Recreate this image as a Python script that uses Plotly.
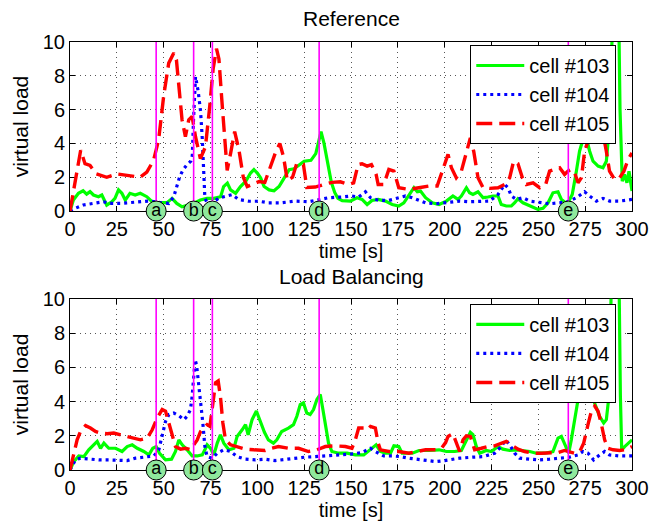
import plotly.graph_objects as go

# ---------------- data (time [s], virtual load) ----------------
REF_103 = [(0,0),(1.8,0.65),(4.5,1.05),(7,1.2),(8.9,1.0),(10.7,1.15),(12.5,0.95),(15.2,0.85),(17,0.95),(19.6,0.35),
           (22.3,0.55),(24,0.75),(25.9,1.25),(27.7,1.05),(29.5,0.65),(32,1.05),(34.8,0.95),(37.5,1.05),(41,0.85),(43.8,0.55),
           (46.4,0.5),(49,0.5),(51.8,0.5),(54.5,0.75),(57,0.45),(59.8,0.25),(62.5,0.35),(66,0.45),(69.6,0.65),(73.2,0.75),
           (76.8,0.75),(80.4,0.85),(82,1.45),(84,1.65),(85.7,1.25),(88.4,1.05),(91,1.45),(93.75,1.75),(96.4,2.25),(98.2,2.45),
           (100,2.25),(101.8,1.95),(103.6,1.45),(106.3,1.25),(108.9,1.2),(111.6,1.45),(114.3,1.95),(117,2.45),(119.6,2.5),
           (122.3,2.7),(125,2.95),(128.6,3.0),(131.2,3.4),(132.5,4.0),(134,4.7),(135.6,4.0),(137.3,2.9),(139.5,1.7),(141.3,1.1),
           (143,0.75),(145.3,0.62),(149.6,0.59),(153.2,0.79),(155.9,0.69),(158.6,0.39),(161.2,0.63),(164.5,0.69),(168.4,0.59),
           (172,0.39),(175.5,0.3),(178.2,0.49),(180.9,0.98),(183.6,1.38),(185.4,1.14),(187.1,1.18),(189.8,0.79),(193.4,0.49),
           (197,0.39),(200.9,0.59),(204.4,0.89),(207.1,0.69),(208.9,0.89),(211.6,1.38),(213.3,1.08),(215.1,0.98),(217.8,1.14),
           (220.5,0.79),(223.1,0.83),(225.8,0.89),(228.5,0.89),(230.2,0.39),(232.9,0.3),(235.6,0.3),(237.4,0.49),(239.1,0.73),
           (241.8,0.49),(245.4,0.3),(249.8,0.1),(252.5,0.16),(255.2,0.49),(257.8,1.08),(260.5,1.14),(262.3,0.69),(264.6,0.49),
           (265.8,0.49),(268.1,0.98),(270.3,2.36),(272,3.54),(273.8,4.23),(275.6,4.33),(277.4,3.54),(279.2,2.95),(281.9,2.66),
           (284.5,2.56),(286.3,2.95),(287.7,4.72),(288.6,8.3),(289.3,11),(291,14),(293,11),(293.6,6),(294.8,1.77),(296,2.17),
           (297.3,1.67),(298.4,2.36),(300,1.18)]

REF_104 = [(0,0),(2.7,0.16),(7.1,0.36),(12.5,0.45),(17.9,0.55),(21.4,0.45),(26.8,0.45),(32,0.5),(37.5,0.55),(42.9,0.6),
           (48.2,0.5),(52.7,0.45),(55.4,0.85),(57.1,1.45),(58.6,2.05),(60.4,2.45),(62.5,2.75),(64.5,2.95),(65.3,3.3),(65.9,5.3),
           (67,7.95),(68.4,7.1),(69.7,5.9),(70.6,4.3),(71.5,2.35),(72,0.77),(73.2,0.48),(75.9,0.48),(79.5,0.77),(83,0.87),
           (86.6,0.97),(90.1,0.68),(95.5,0.58),(100.8,0.58),(105.9,0.49),(113,0.49),(120.2,0.59),(127.3,0.55),(132.7,0.65),
           (138,0.79),(145.2,0.83),(150.5,0.89),(154.1,0.83),(157.7,1.14),(160.4,0.79),(164.8,0.63),(170.2,0.63),(175.5,0.79),
           (179.1,0.89),(182.7,0.79),(186.1,0.63),(189.8,0.49),(195.2,0.43),(200.4,0.49),(202.7,0.49),(208,0.59),(213.3,0.55),
           (218.7,0.59),(224,0.59),(228.5,0.98),(232,1.57),(233.8,1.38),(235.6,0.89),(238.3,0.69),(241.8,0.79),(245.4,0.59),
           (250.7,0.49),(256,0.43),(261.4,0.49),(265.8,0.55),(270.3,0.79),(273,0.98),(274.7,1.14),(277.4,0.89),(281,0.59),
           (284.5,0.75),(288,0.59),(293.4,0.59),(300,0.69)]

REF_105 = [(0,0),(3.6,2.4),(5.7,3.6),(8,2.8),(10.7,2.7),(14,2.2),(19.6,2.0),(25,2.2),(30,2.1),(37.5,2.0),(41,2.3),
           (44.6,3.0),(47.3,4.2),(50,6.8),(52.7,8.75),(55.4,9.35),(56.8,8.95),(58.4,6.8),(59.8,5.4),(61.6,4.4),(63.4,5.4),
           (65.2,5.6),(67,4.4),(69.6,3.1),(72.3,3.8),(74.6,6.2),(76.4,8.4),(78.2,9.6),(79.5,9.0),(80.9,6.8),(82.5,4.4),
           (83.9,2.4),(85.7,3.4),(87.9,4.7),(90.2,3.6),(92.5,2.0),(94.6,1.45),(98.2,1.6),(101,1.75),(104,1.7),(106.8,2.56),
           (109.5,3.4),(112,4.0),(114,3.2),(116,1.8),(118.8,2.0),(121,2.8),(124.6,2.75),(126.4,1.4),(130.9,1.42),(135.4,1.57),
           (140,1.7),(144.3,1.73),(148.8,1.57),(151.4,1.67),(153.8,2.75),(155.9,2.8),(158.6,2.66),(160.9,2.75),(163.4,2.17),
           (164.5,1.57),(167.5,1.57),(170.2,2.46),(172.9,2.36),(175.5,1.38),(180.9,1.28),(186.2,1.38),(191.6,1.48),(196,1.48),
           (199.6,2.56),(201.8,3.35),(203.6,2.56),(206.2,1.97),(208.9,2.36),(211.6,3.54),(213.7,4.33),(215.5,3.54),(217.8,1.97),
           (220.5,1.38),(224,1.34),(228.5,1.38),(232,1.57),(234.7,1.97),(236.8,2.95),(239.1,2.8),(241.5,1.97),(243.6,1.57),
           (247.2,1.67),(250.7,1.38),(253.9,1.57),(256,2.36),(258.7,2.46),(261.4,2.56),(264,2.17),(265.8,2.36),(267.6,2.46),
           (269.4,2.26),(271.2,1.67),(273,1.97),(274.7,3.54),(276.5,4.13),(279.2,4.7),(281,4.5),(282.7,4.13),(284.5,4.6),
           (286.3,3.54),(288,2.36),(290.7,1.87),(293.4,1.97),(295.7,2.36),(297.9,3.05),(300,3.44)]

LB_103 = [(0,0),(2,0.49),(4.7,0.82),(7.4,0.78),(10,1.18),(12.7,1.47),(14.5,1.67),(16.3,1.27),(18.1,1.57),(20.7,1.27),
          (24.3,1.27),(27.8,1.08),(30.5,1.37),(33.2,1.47),(35.9,1.27),(39.4,1.08),(42.1,0.88),(44.2,1.27),(46,1.37),(47.8,0.98),
          (51,0.59),(54.2,0.63),(56.3,1.08),(58.1,1.76),(59.9,1.47),(62.5,1.18),(65.2,0.82),(67.9,0.82),(70.6,0.88),(72,1.18),
          (73.2,1.47),(75,1.27),(76.8,0.88),(78.6,1.57),(80.3,2.06),(82.1,1.57),(84.8,1.18),(87.5,1.27),(89.2,1.96),(91.9,2.35),
          (93.7,2.65),(95.1,2.06),(97.2,2.94),(99.5,3.45),(100.8,3.1),(102.4,2.7),(103.8,2.2),(105.9,1.76),(108.6,1.57),
          (110.4,1.76),(113,2.25),(116.6,2.45),(119.3,2.65),(121.1,3.14),(122.9,3.82),(124.6,3.92),(126.4,3.33),(128.2,3.24),
          (130,3.53),(131.8,4.12),(133.6,4.41),(135,3.53),(136.3,2.55),(138,1.57),(139.8,1.08),(143.4,0.98),(147.9,0.98),
          (152.3,0.88),(156.8,0.88),(160.4,1.18),(163.4,1.47),(165.7,1.08),(168.4,0.98),(171.1,0.98),(172.9,1.41),(175.5,1.37),
          (177.3,0.98),(182.7,0.98),(186.3,1.14),(191.6,1.14),(197,1.18),(200.9,1.08),(205.3,1.08),(208.9,1.14),(211.6,1.76),
          (213.7,2.2),(215.1,2.06),(216.9,1.37),(218.7,0.98),(222.2,1.14),(224.9,1.08),(228.5,1.37),(231.1,1.22),(234.7,1.14),
          (238.3,1.18),(241.8,1.14),(245.4,1.08),(248.9,0.98),(253.4,0.98),(257.8,1.08),(260.5,1.86),(262.3,1.96),(264.1,1.47),
          (266.2,0.98),(267.6,1.76),(269.4,2.94),(271.2,4.12),(273,5.0),(274.7,5.9),(276.3,5.5),(277.8,4.4),(280,3.92),
          (282.7,3.14),(284.9,2.75),(286.3,2.94),(287.7,4.31),(288.4,8.2),(289,11),(291,14),(293.1,11),(293.8,4.31),
          (294.5,1.18),(296.1,1.37),(297.9,1.57),(300,1.76)]

LB_104 = [(0,0),(2.9,0.59),(5.6,0.69),(10,0.63),(15.4,0.59),(20.7,0.59),(26.1,0.59),(30.5,0.55),(35,0.69),(40.3,0.78),
          (44.8,0.82),(47.4,1.18),(49.2,1.96),(51,2.84),(52.8,3.24),(55.4,3.33),(58.1,3.18),(60.8,2.94),(62.5,3.14),(64.3,3.53),
          (65.2,4.31),(66.1,5.8),(66.8,6.45),(67.6,6.1),(68.4,5.29),(69.7,4.31),(70.9,2.75),(72,1.37),(73.2,0.78),(75.9,0.69),
          (78.6,0.98),(82.1,1.18),(85.7,1.08),(89.2,0.78),(93.7,0.63),(99,0.59),(104.1,0.63),(109.5,0.55),(114.8,0.63),
          (120.2,0.69),(125.5,0.75),(130.9,0.78),(136.3,0.82),(143.4,0.88),(150.5,0.94),(155.9,1.02),(160.4,1.27),(163,1.08),
          (167.5,0.82),(172,0.82),(176.4,0.78),(180.9,0.69),(185.4,0.63),(189.8,0.55),(195.4,0.49),(200,0.55),(204,0.63),
          (208,0.69),(215.1,0.75),(220.5,0.78),(226.7,0.98),(230.2,1.37),(232.6,1.76),(234.7,1.47),(237.4,0.98),(240,0.69),
          (245.4,0.63),(250.7,0.59),(256,0.63),(261.4,0.69),(266.7,0.75),(271.2,0.88),(273.8,1.08),(276.5,0.98),(279.5,0.59),
          (282.7,0.88),(285.4,1.08),(288,0.88),(293.4,0.82),(300,0.82)]

LB_105 = [(0,0),(2,0.98),(3.8,1.76),(5.6,2.25),(8.3,2.59),(10.9,2.45),(13.6,2.25),(16.3,2.16),(19.8,2.12),(23.4,2.16),
          (27,2.06),(30.5,1.96),(34.1,1.86),(37.6,1.76),(41.2,1.86),(43.9,2.35),(46.5,3.04),(49.2,3.53),(51,3.43),(52.8,2.75),
          (54.5,1.96),(56.3,1.37),(59,1.22),(61.7,1.27),(64.3,1.18),(66.1,1.47),(67.9,1.76),(69.7,2.25),(71.4,2.45),(73.2,2.65),
          (74.7,2.55),(75.9,3.53),(77.7,5.1),(79.1,5.2),(80.3,4.3),(81.6,2.75),(83,1.76),(85.7,1.47),(89.2,1.37),(93.7,1.22),
          (98.1,1.18),(104.1,1.14),(107.7,1.27),(111.3,1.37),(116.6,1.27),(122,1.27),(127.3,1.08),(131.8,1.18),(136.3,1.37),
          (141.6,1.41),(147,1.37),(150.5,1.27),(152.3,1.76),(154.1,2.45),(156.8,2.45),(158.6,2.35),(160.4,2.55),(163,2.45),
          (164.5,1.57),(165.7,1.18),(170.2,1.08),(175.5,1.08),(180.9,0.98),(186.2,1.08),(189.8,1.18),(195.2,1.18),(198.5,1.3),
          (200.5,1.6),(201.8,1.96),(204.4,2.12),(206.2,1.57),(208,1.08),(209.8,1.76),(211.6,2.0),(213.7,1.96),(216,1.18),
          (219.6,1.27),(223.1,1.37),(226.7,1.41),(230.2,1.57),(232.9,1.67),(235.6,1.47),(239.1,1.22),(242.7,1.08),(247.2,0.98),
          (251.6,0.98),(256,1.02),(260.5,1.02),(264,1.14),(266.7,1.08),(269.4,0.98),(272.1,1.08),(274.2,1.57),(276.5,2.65),
          (278.3,3.43),(280.1,3.73),(281.9,3.43),(283.7,2.65),(285.4,1.76),(287.2,1.27),(289.9,1.18),(293.4,1.14),(296.1,1.18),
          (300,1.37)]

EVENT_T = [46, 66, 76, 133, 266]
EVENT_LABELS = ["a", "b", "c", "d", "e"]
SERIES_NAMES = ["cell #103", "cell #104", "cell #105"]
PANEL_TITLES = ["Reference", "Load Balancing"]
X_TICKS = list(range(0, 301, 25))
Y_TICKS = [0, 2, 4, 6, 8, 10]

# ---------------- styling ----------------
FONT = "Liberation Sans, Arial, Helvetica, sans-serif"
STYLES = [
    dict(color="#00ff00", width=3.2, dash="solid"),
    dict(color="#0000ff", width=3.2, dash="3px,4px"),
    dict(color="#ff0000", width=3.4, dash="16px,7px"),
]

fig = go.Figure()

panels = [((REF_103, REF_104, REF_105), "x", "y", "legend"),
          ((LB_103, LB_104, LB_105), "x2", "y2", "legend2")]

for series, xa, ya, lg in panels:
    for name, data, st in zip(SERIES_NAMES, series, STYLES):
        fig.add_trace(go.Scatter(
            x=[p[0] for p in data], y=[p[1] for p in data],
            mode="lines", name=name, line=st, xaxis=xa, yaxis=ya,
            legend=lg, showlegend=True, hoverinfo="skip"))
    # magenta event lines
    lx, ly = [], []
    for t in EVENT_T:
        lx += [t, t, None]
        ly += [0, 10, None]
    fig.add_trace(go.Scatter(x=lx, y=ly, mode="lines", line=dict(color="#ff00ff", width=1.6),
                             xaxis=xa, yaxis=ya, showlegend=False, hoverinfo="skip"))
    # circled labels on the time axis
    fig.add_trace(go.Scatter(
        x=EVENT_T, y=[0] * len(EVENT_T), mode="markers+text", text=EVENT_LABELS,
        textposition="middle center", textfont=dict(family=FONT, size=18, color="black"),
        marker=dict(size=20, color="#8fe89c", line=dict(color="black", width=1)),
        cliponaxis=False, xaxis=xa, yaxis=ya, showlegend=False, hoverinfo="skip"))

axis_common = dict(
    showline=True, linecolor="black", linewidth=1, mirror="ticks",
    ticks="inside", ticklen=5, tickcolor="black", tickwidth=1,
    showgrid=True, gridcolor="#555555", griddash="1px,4px", gridwidth=1,
    zeroline=False, layer="below traces",
    tickfont=dict(family=FONT, size=20, color="black"), automargin=False,
)

xax = dict(axis_common, range=[0, 300], tickvals=X_TICKS,
           title=dict(text="time [s]", font=dict(family=FONT, size=20, color="black"), standoff=0))
yax = dict(axis_common, range=[0, 10], tickvals=Y_TICKS,
           title=dict(text="virtual load", font=dict(family=FONT, size=21, color="black"), standoff=8))

legend_common = dict(
    xanchor="right", yanchor="top", x=0.972,
    bgcolor="white", bordercolor="black", borderwidth=1, itemwidth=48,
    font=dict(family=FONT, size=20, color="black"), tracegroupgap=0,
)

# The page body adds an 8px offset, so the figure is 8px smaller on each axis.
fig.update_layout(
    width=658, height=516,
    margin=dict(l=62, r=34, t=34, b=54),
    paper_bgcolor="white", plot_bgcolor="white",
    font=dict(family=FONT, size=20, color="black"),
    xaxis=dict(xax, domain=[0, 1], anchor="y"),
    yaxis=dict(yax, domain=[0.605, 1.0], anchor="x"),
    xaxis2=dict(xax, domain=[0, 1], anchor="y2"),
    yaxis2=dict(yax, domain=[0.0, 0.4], anchor="x2"),
    legend=dict(legend_common, y=0.993),
    legend2=dict(legend_common, y=0.388),
    annotations=[
        dict(text=PANEL_TITLES[0], xref="paper", yref="paper", x=0.5, y=1.056,
             xanchor="center", yanchor="middle", showarrow=False,
             font=dict(family=FONT, size=21, color="black")),
        dict(text=PANEL_TITLES[1], xref="paper", yref="paper", x=0.5, y=0.451,
             xanchor="center", yanchor="middle", showarrow=False,
             font=dict(family=FONT, size=21, color="black")),
    ],
    showlegend=True,
)

fig.write_html("out.html")
